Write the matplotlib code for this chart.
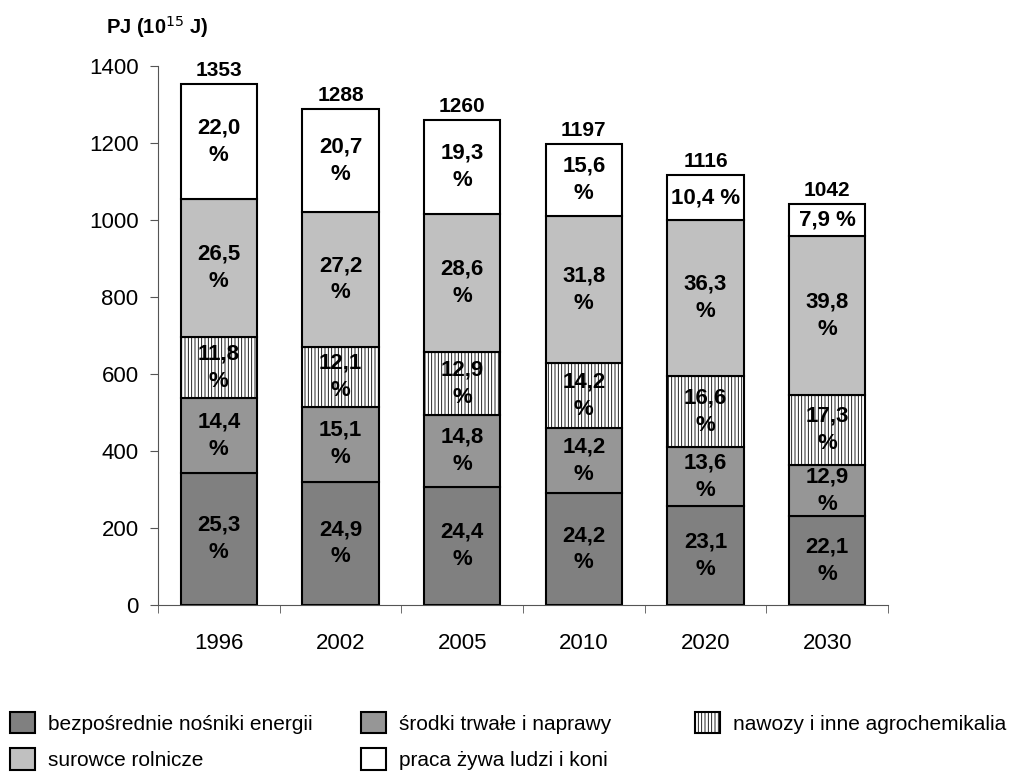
import numpy as np
import matplotlib
matplotlib.use('Agg')
import matplotlib.pyplot as plt
from matplotlib.patches import Patch

plt.rcParams['font.family'] = ['Liberation Sans', 'DejaVu Sans']
plt.rcParams['hatch.linewidth'] = 0.6

# dane
years = ['1996', '2002', '2005', '2010', '2020', '2030']
totals = [1353, 1288, 1260, 1197, 1116, 1042]
bezposrednie = [25.3, 24.9, 24.4, 24.2, 23.1, 22.1]
srodki = [14.4, 15.1, 14.8, 14.2, 13.6, 12.9]
nawozy = [11.8, 12.1, 12.9, 14.2, 16.6, 17.3]
surowce = [26.5, 27.2, 28.6, 31.8, 36.3, 39.8]
praca = [22.0, 20.7, 19.3, 15.6, 10.4, 7.9]
names = ['bezpośrednie nośniki energii', 'środki trwałe i naprawy',
         'nawozy i inne agrochemikalia', 'surowce rolnicze',
         'praca żywa ludzi i koni']

series = [bezposrednie, srodki, nawozy, surowce, praca]
colors = ['#808080', '#969696', 'white', '#c0c0c0', 'white']
hatches = [None, None, '|||||', None, None]

fig = plt.figure(figsize=(10.13, 7.83), dpi=100)
ax = fig.add_axes([158/1013, 1-605/783, 730/1013, 539/783])

x = np.arange(len(years))
tot = np.array(totals, dtype=float)
bottom = np.zeros(len(years))
width = 0.63
for pct, col, h in zip(series, colors, hatches):
    vals = tot * np.array(pct) / 100
    ax.bar(x, vals, width, bottom=bottom, color=col, edgecolor='black',
           linewidth=1.5, hatch=h)
    for i in range(len(years)):
        txt = f'{pct[i]:.1f}'.replace('.', ',')
        if vals[i] < 125:
            txt = txt + ' %'
        else:
            txt = txt + '\n%'
        ax.text(x[i], bottom[i] + vals[i]/2, txt, ha='center', va='center',
                fontsize=16, fontweight='bold', linespacing=1.4)
    bottom += vals

for i in range(len(years)):
    ax.annotate(str(totals[i]), (x[i], tot[i]), xytext=(0, 3),
                textcoords='offset points', ha='center', va='bottom',
                fontsize=15, fontweight='bold')

ax.set_xlim(-0.5, len(years) - 0.5)
ax.set_ylim(0, 1400)
ax.set_yticks(range(0, 1401, 200))
ax.set_xticks(x)
ax.set_xticklabels(years)
ax.set_xticks(np.arange(-0.5, len(years)), minor=True)
ax.tick_params(axis='x', which='major', length=0, pad=20, labelsize=16)
ax.tick_params(axis='x', which='minor', length=6, direction='out', color='#555555')
ax.tick_params(axis='y', length=6, direction='out', labelsize=16, pad=8, color='#555555')
for s in ['top', 'right']:
    ax.spines[s].set_visible(False)
ax.spines['left'].set_color('#555555')
ax.spines['bottom'].set_color('#555555')

fig.text(157/1013, 1-27/783, 'PJ (10$^{15}$ J)', ha='center', va='center',
         fontsize=14.5, fontweight='bold')

handles = [Patch(facecolor=c, edgecolor='black', linewidth=1.5, hatch=h)
           for c, h in zip(colors, hatches)]
cols = [([0, 3], 10), ([1, 4], 361), ([2], 695)]
for idx, xpos in cols:
    fig.legend([handles[k] for k in idx], [names[k] for k in idx],
               loc='upper left', bbox_to_anchor=(xpos/1013, 1-712/783),
               frameon=False, fontsize=15, handlelength=1.2, handleheight=1.2,
               handletextpad=0.6, labelspacing=0.7, borderpad=0, borderaxespad=0)

fig.savefig('out.png', dpi=100)
